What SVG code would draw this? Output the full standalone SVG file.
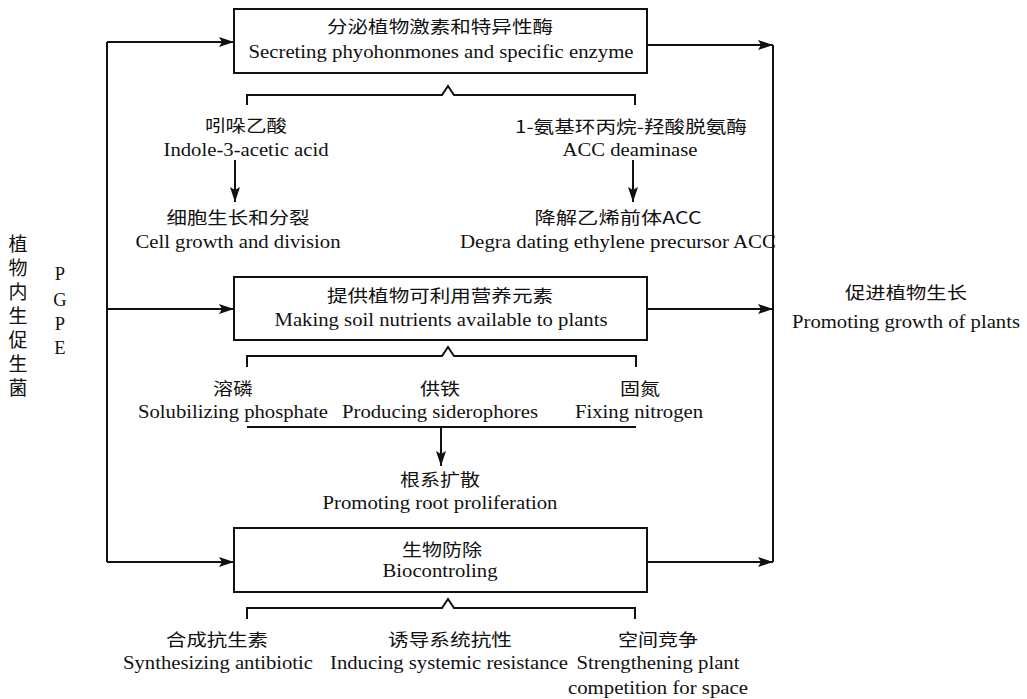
<svg xmlns="http://www.w3.org/2000/svg" width="1027" height="699" viewBox="0 0 1027 699">
<style>
.cn{font-family:"Noto Sans CJK SC","Noto Sans CJK JP",sans-serif;font-size:17px;fill:#111;text-anchor:middle}
.en{font-family:"Liberation Serif","Times New Roman",serif;font-size:18.5px;fill:#111;text-anchor:middle}
.vt{font-family:"Noto Sans CJK SC","Noto Sans CJK JP",sans-serif;font-size:19px;fill:#111;writing-mode:vertical-rl;letter-spacing:5px}
.box{fill:#fff;stroke:#111;stroke-width:2}
.ln{fill:none;stroke:#111;stroke-width:2}
</style>
<defs>
<marker id="ah" markerUnits="userSpaceOnUse" markerWidth="16" markerHeight="10" refX="15" refY="5" orient="auto">
<path d="M0,0 L15,5 L0,10 L3,5 z" fill="#111"/>
</marker>
</defs>
<rect width="1027" height="699" fill="#fff"/>

<g id="connectors">
<path class="ln" d="M107,42 V562"/>
<path class="ln" d="M107,42 H234" marker-end="url(#ah)"/>
<path class="ln" d="M107,309 H234" marker-end="url(#ah)"/>
<path class="ln" d="M107,562 H234" marker-end="url(#ah)"/>
<path class="ln" d="M773,45 V562"/>
<path class="ln" d="M647,45 H773" marker-end="url(#ah)"/>
<path class="ln" d="M647,309 H773" marker-end="url(#ah)"/>
<path class="ln" d="M647,562 H773" marker-end="url(#ah)"/>
<path class="ln" d="M247,105 V95 H442 L448,86 L454,95 H635 V105"/>
<path class="ln" d="M247,367 V356 H442 L448,347 L454,356 H636 V367"/>
<path class="ln" d="M247,619 V608 H442 L448,599 L454,608 H635 V619"/>
<path class="ln" d="M235,160 V202" marker-end="url(#ah)"/>
<path class="ln" d="M633,160 V202" marker-end="url(#ah)"/>
<path class="ln" d="M247,427 H636"/>
<path class="ln" d="M441,427 V466" marker-end="url(#ah)"/>
</g>

<g id="node-secreting">
<rect class="box" x="234" y="9" width="413" height="64"/>
<text class="cn" x="440" y="33" textLength="226" lengthAdjust="spacingAndGlyphs">分泌植物激素和特异性酶</text>
<text class="en" x="441" y="58" textLength="385" lengthAdjust="spacingAndGlyphs">Secreting phyohonmones and specific enzyme</text>
</g>

<g id="node-iaa">
<text class="cn" x="246" y="132" textLength="82" lengthAdjust="spacingAndGlyphs">吲哚乙酸</text>
<text class="en" x="246" y="156" textLength="165" lengthAdjust="spacingAndGlyphs">Indole-3-acetic acid</text>
</g>

<g id="node-acc">
<text class="cn" x="631" y="133" textLength="232" lengthAdjust="spacingAndGlyphs">1-氨基环丙烷-羟酸脱氨酶</text>
<text class="en" x="630" y="156" textLength="135" lengthAdjust="spacingAndGlyphs">ACC deaminase</text>
</g>

<g id="node-cell">
<text class="cn" x="238" y="224" textLength="143" lengthAdjust="spacingAndGlyphs">细胞生长和分裂</text>
<text class="en" x="238" y="248" textLength="205" lengthAdjust="spacingAndGlyphs">Cell growth and division</text>
</g>

<g id="node-degrading">
<text class="cn" x="618" y="224" textLength="167" lengthAdjust="spacingAndGlyphs">降解乙烯前体ACC</text>
<text class="en" x="618" y="248" textLength="316" lengthAdjust="spacingAndGlyphs">Degra dating ethylene precursor ACC</text>
</g>

<g id="node-nutrients">
<rect class="box" x="234" y="277" width="413" height="63"/>
<text class="cn" x="440" y="302" textLength="226" lengthAdjust="spacingAndGlyphs">提供植物可利用营养元素</text>
<text class="en" x="441" y="326" textLength="333" lengthAdjust="spacingAndGlyphs">Making soil nutrients available to plants</text>
</g>

<g id="node-phosphate">
<text class="cn" x="233" y="395" textLength="40" lengthAdjust="spacingAndGlyphs">溶磷</text>
<text class="en" x="233" y="418" textLength="190" lengthAdjust="spacingAndGlyphs">Solubilizing phosphate</text>
</g>

<g id="node-siderophores">
<text class="cn" x="440" y="395" textLength="40" lengthAdjust="spacingAndGlyphs">供铁</text>
<text class="en" x="440" y="418" textLength="196" lengthAdjust="spacingAndGlyphs">Producing siderophores</text>
</g>

<g id="node-nitrogen">
<text class="cn" x="640" y="395" textLength="40" lengthAdjust="spacingAndGlyphs">固氮</text>
<text class="en" x="639" y="418" textLength="128" lengthAdjust="spacingAndGlyphs">Fixing nitrogen</text>
</g>

<g id="node-root">
<text class="cn" x="440" y="486" textLength="80" lengthAdjust="spacingAndGlyphs">根系扩散</text>
<text class="en" x="440" y="509" textLength="235" lengthAdjust="spacingAndGlyphs">Promoting root proliferation</text>
</g>

<g id="node-biocontrol">
<rect class="box" x="234" y="528" width="413" height="64"/>
<text class="cn" x="442" y="556" textLength="80" lengthAdjust="spacingAndGlyphs">生物防除</text>
<text class="en" x="440" y="577" textLength="115" lengthAdjust="spacingAndGlyphs">Biocontroling</text>
</g>

<g id="node-antibiotic">
<text class="cn" x="217" y="646" textLength="102" lengthAdjust="spacingAndGlyphs">合成抗生素</text>
<text class="en" x="218" y="669" textLength="190" lengthAdjust="spacingAndGlyphs">Synthesizing antibiotic</text>
</g>

<g id="node-resistance">
<text class="cn" x="450" y="646" textLength="124" lengthAdjust="spacingAndGlyphs">诱导系统抗性</text>
<text class="en" x="449" y="669" textLength="238" lengthAdjust="spacingAndGlyphs">Inducing systemic resistance</text>
</g>

<g id="node-competition">
<text class="cn" x="658" y="646" textLength="80" lengthAdjust="spacingAndGlyphs">空间竞争</text>
<text class="en" x="658" y="669" textLength="163" lengthAdjust="spacingAndGlyphs">Strengthening plant</text>
<text class="en" x="658" y="694" textLength="180" lengthAdjust="spacingAndGlyphs">competition for space</text>
</g>

<g id="node-promoting">
<text class="cn" x="906" y="299" textLength="122" lengthAdjust="spacingAndGlyphs">促进植物生长</text>
<text class="en" x="906" y="328" textLength="228" lengthAdjust="spacingAndGlyphs">Promoting growth of plants</text>
</g>

<g id="node-pgpe">
<text class="vt" x="18" y="234">植物内生促生菌</text>
<text class="en" x="60" y="280">P</text>
<text class="en" x="60" y="306">G</text>
<text class="en" x="60" y="330">P</text>
<text class="en" x="60" y="354">E</text>
</g>
</svg>
